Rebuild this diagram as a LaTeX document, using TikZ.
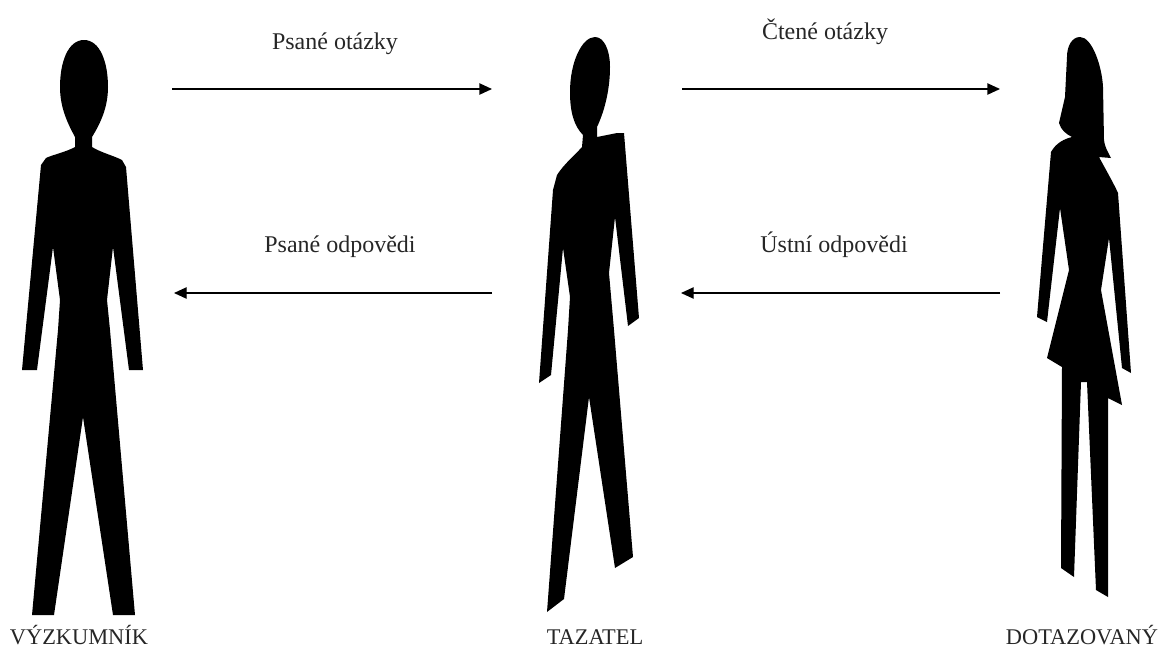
\documentclass[tikz,border=0pt]{standalone}
\usepackage{fontspec}
\setmainfont{Liberation Serif}
\usetikzlibrary{arrows.meta}
\tikzset{
    figure/.style={fill=black, draw=none},
    flow/.style={-{Triangle[length=9.5pt,width=8.5pt]}, line width=1pt},
    flowlabel/.style={font=\fontsize{18pt}{22pt}\selectfont, inner sep=0pt, anchor=base, text=black!85},
    personlabel/.style={font=\fontsize{16.8pt}{20pt}\selectfont, inner sep=0pt, anchor=base, text=black!85}
}
\begin{document}
\begin{tikzpicture}[x=0.75pt, y=-0.75pt]
    \useasboundingbox (0,0) rectangle (1161,647);

    % researcher
    \fill[figure] (84,40) .. controls (68,40) and (60,62) .. (60,87)
        .. controls (60,108) and (68,124) .. (75,137) -- (75,147)
        .. controls (66,152) and (52,155) .. (46,158) -- (41,165)
        -- (22,370) -- (37,370) -- (53,247) -- (60,300) -- (58,330) -- (32,615) -- (54,615)
        -- (83,417) -- (113,615) -- (135,615) -- (110,330) -- (107,300) -- (113,247)
        -- (129,370) -- (143,370) -- (126,167) -- (122,160)
        .. controls (112,155) and (102,153) .. (92,147) -- (92,137)
        .. controls (100,124) and (108,108) .. (108,87)
        .. controls (108,62) and (100,40) .. (84,40) -- cycle;

    % interviewer
    \fill[figure] (595,37) .. controls (582,37) and (570,62) .. (570,92)
        .. controls (570,112) and (574,126) .. (583,135) -- (582,147)
        .. controls (574,156) and (564,164) .. (557,175) -- (553,190)
        -- (539,383) -- (551,375) -- (563,248) -- (570,297) -- (568,330)
        -- (547,612) -- (564,599) -- (589,397) -- (615,568) -- (633,557)
        -- (614,330) -- (609,273) -- (615,217) -- (628,326) -- (639,318) -- (624,133)
        -- (617,133) -- (597,137) -- (597,127)
        .. controls (606,108) and (610,86) .. (610,67)
        .. controls (610,50) and (604,37) .. (595,37) -- cycle;

    % respondent
    \fill[figure] (1080,37) .. controls (1072,37) and (1067,46) .. (1067,57)
        -- (1065,97) -- (1059,123) .. controls (1061,130) and (1066,134) .. (1072,137)
        .. controls (1064,139) and (1056,143) .. (1051,152)
        -- (1037,317) -- (1047,322) -- (1060,208) -- (1069,270) -- (1047,358) -- (1062,367)
        -- (1061,568) -- (1074,577) -- (1081,382) -- (1087,382) -- (1096,590) -- (1108,597)
        -- (1108,398) -- (1122,405) -- (1101,290) -- (1109,238) -- (1122,368) -- (1131,373)
        -- (1118,193) .. controls (1114,184) and (1106,170) .. (1099,157)
        -- (1111,158) .. controls (1108,152) and (1105,148) .. (1104,140)
        -- (1103,87) .. controls (1102,66) and (1092,37) .. (1080,37) -- cycle;

    % connector ends
    \coordinate (writeQstart) at (172,89);
    \coordinate (writeQend) at (492,89);
    \coordinate (readQstart) at (682,89);
    \coordinate (readQend) at (1000,89);
    \coordinate (writeAstart) at (492,293);
    \coordinate (writeAend) at (174,293);
    \coordinate (oralAstart) at (1000,293);
    \coordinate (oralAend) at (681,293);

    \draw[flow] (writeQstart) -- (writeQend);
    \draw[flow] (readQstart) -- (readQend);
    \draw[flow] (writeAstart) -- (writeAend);
    \draw[flow] (oralAstart) -- (oralAend);

    \node[flowlabel] (writeQ) at (335,49) {Psané otázky};
    \node[flowlabel] (readQ) at (825,39) {Čtené otázky};
    \node[flowlabel] (writeA) at (340,252) {Psané odpovědi};
    \node[flowlabel] (oralA) at (834,252) {Ústní odpovědi};

    \node[personlabel] (researcher) at (79,644) {VÝZKUMNÍK};
    \node[personlabel] (interviewer) at (595,644) {TAZATEL};
    \node[personlabel] (respondent) at (1082,644) {DOTAZOVANÝ};
\end{tikzpicture}
\end{document}
